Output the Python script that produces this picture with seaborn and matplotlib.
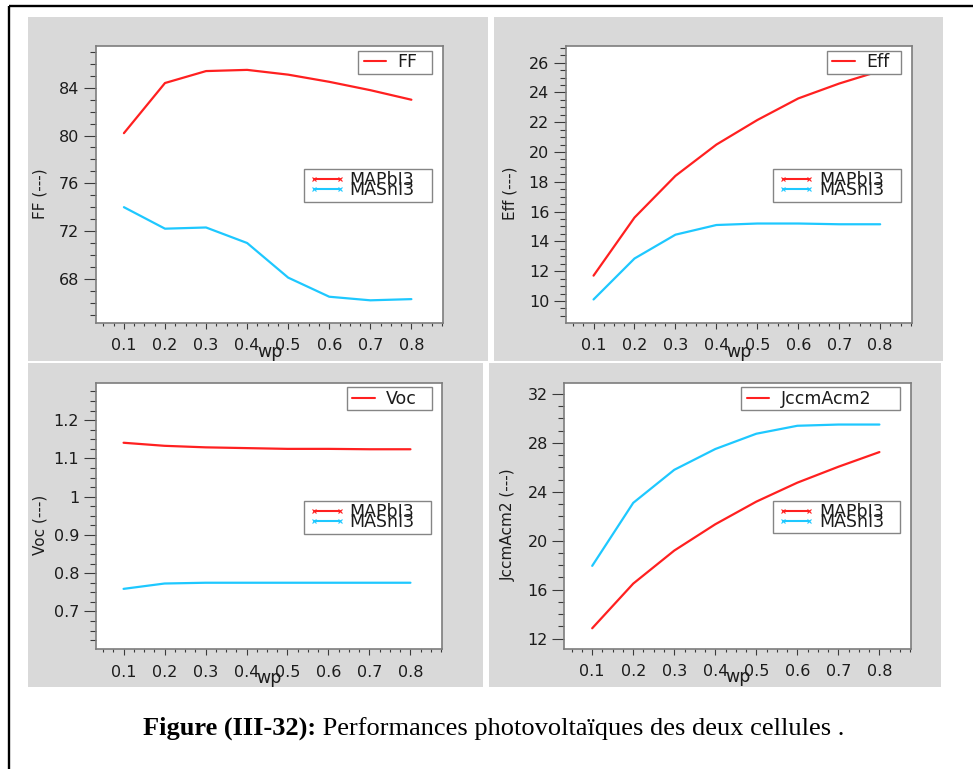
import matplotlib
matplotlib.use("Agg")
import numpy as np
import pandas as pd
import matplotlib.pyplot as plt
import seaborn as sns
from matplotlib.lines import Line2D
from matplotlib.patches import Rectangle
from matplotlib.legend_handler import HandlerLine2D
from matplotlib.ticker import MultipleLocator, FixedLocator, FuncFormatter

# ---- data -------------------------------------------------------------
wp = [0.1, 0.2, 0.3, 0.4, 0.5, 0.6, 0.7, 0.8]
cells = ["MAPbI3", "MASnI3"]

ff_mapbi3 = [80.2, 84.4, 85.4, 85.5, 85.1, 84.5, 83.8, 83.0]
ff_masni3 = [74.0, 72.2, 72.3, 71.0, 68.1, 66.5, 66.2, 66.3]

eff_mapbi3 = [11.7, 15.6, 18.4, 20.5, 22.15, 23.6, 24.6, 25.45]
eff_masni3 = [10.1, 12.85, 14.45, 15.1, 15.2, 15.2, 15.15, 15.15]

voc_mapbi3 = [1.141, 1.133, 1.129, 1.127, 1.125, 1.125, 1.124, 1.124]
voc_masni3 = [0.759, 0.773, 0.775, 0.775, 0.775, 0.775, 0.775, 0.775]

jsc_mapbi3 = [12.85, 16.5, 19.2, 21.35, 23.2, 24.75, 26.05, 27.25]
jsc_masni3 = [17.95, 23.1, 25.8, 27.5, 28.75, 29.4, 29.5, 29.5]

x_ticks = [0.1, 0.2, 0.3, 0.4, 0.5, 0.6, 0.7, 0.8]

# ---- style ------------------------------------------------------------
sns.set_theme(style="white")
plt.rcParams["font.family"] = ["DejaVu Sans"]

RED = "#ff2020"
CYAN = "#1ec8ff"
PALETTE = {"MAPbI3": RED, "MASnI3": CYAN}
GRAY_BG = "#d9d9d9"
SPINE = "#7d7d7d"
TXT = "#1c1c1c"

W, H = 973, 769
fig = plt.figure(figsize=(W / 100, H / 100), dpi=100, facecolor="white")


def fig_box(x0, y0, x1, y1):
    """Pixel box (origin top-left) -> figure fraction [left, bottom, width, height]."""
    return [x0 / W, 1 - y1 / H, (x1 - x0) / W, (y1 - y0) / H]


panels = [
    dict(name="FF", ylabel="FF (---)", legend="FF", series=(ff_mapbi3, ff_masni3),
         bg=(28, 17, 488.3, 360.7), box=(96, 46, 443, 323),
         ylim=(64.3, 87.5), major=4, minor=1, first_leg=(0.755, 0.968), second_x0=0.599),
    dict(name="Eff", ylabel="Eff (---)", legend="Eff", series=(eff_mapbi3, eff_masni3),
         bg=(494, 17, 942.7, 360.7), box=(565.7, 46, 911.7, 323),
         ylim=(8.52, 27.12), major=2, minor=0.5, first_leg=(0.754, 0.969), second_x0=0.599),
    dict(name="Voc", ylabel="Voc (---)", legend="Voc", series=(voc_mapbi3, voc_masni3),
         bg=(28, 363.3, 483.3, 686.7), box=(95.7, 382.7, 442, 649.3),
         ylim=(0.601, 1.298), major=0.1, minor=0.025, first_leg=(0.725, 0.970), second_x0=0.601),
    dict(name="Jsc", ylabel="JccmAcm2 (---)", legend="JccmAcm2", series=(jsc_mapbi3, jsc_masni3),
         bg=(489.3, 363.3, 940.7, 686.7), box=(564.3, 382.7, 911, 648.7),
         ylim=(11.18, 32.92), major=4, minor=1, first_leg=(0.510, 0.969), second_x0=0.602),
]

fmt = FuncFormatter(lambda v, _: f"{v:g}")
LEG_FS = 12.5

for p in panels:
    # gray panel background
    x0, y0, x1, y1 = p["bg"]
    l, b, w, h = fig_box(x0, y0, x1, y1)
    fig.add_artist(Rectangle((l, b), w, h, transform=fig.transFigure,
                             facecolor=GRAY_BG, edgecolor="none", zorder=-5))

    ax = fig.add_axes(fig_box(*p["box"]))
    ax.set_facecolor("white")

    df = pd.DataFrame({
        "wp": wp * 2,
        "cell": [cells[0]] * len(wp) + [cells[1]] * len(wp),
        "value": list(p["series"][0]) + list(p["series"][1]),
    })
    sns.lineplot(data=df, x="wp", y="value", hue="cell", palette=PALETTE,
                 linewidth=1.6, ax=ax, legend=False)

    ax.set_xlim(0.032, 0.877)
    ax.set_ylim(*p["ylim"])
    ax.xaxis.set_major_locator(FixedLocator(x_ticks))
    ax.xaxis.set_minor_locator(MultipleLocator(0.025))
    ax.yaxis.set_major_locator(MultipleLocator(p["major"]))
    ax.yaxis.set_minor_locator(MultipleLocator(p["minor"]))
    ax.xaxis.set_major_formatter(fmt)
    ax.yaxis.set_major_formatter(fmt)

    ax.tick_params(axis="x", which="major", direction="out", length=4, width=0.8,
                   color="#3a3a3a", pad=7, labelsize=11.5, labelcolor=TXT,
                   bottom=True, top=False)
    ax.tick_params(axis="x", which="minor", direction="out", length=2.4, width=0.8,
                   color="#3a3a3a", bottom=True, top=False)
    ax.tick_params(axis="y", which="major", direction="out", length=8.5, width=0.8,
                   color="#3a3a3a", pad=3.4, labelsize=11.5, labelcolor=TXT,
                   left=True, right=False)
    ax.tick_params(axis="y", which="minor", direction="out", length=4.6, width=0.8,
                   color="#3a3a3a", left=True, right=False)

    for s in ax.spines.values():
        s.set_visible(True)
        s.set_color(SPINE)
        s.set_linewidth(1.2)

    ax.set_xlabel("wp", fontsize=12.5, color=TXT)
    ax.xaxis.set_label_coords(0.5, -0.074)
    ax.set_ylabel(p["ylabel"], fontsize=11, color=TXT)
    ax.yaxis.set_label_coords(-0.14, 0.468)

    # quantity legend (single red entry)
    fx0, fx1 = p["first_leg"]
    leg1 = ax.legend([Line2D([], [], color=RED, lw=1.5)], [p["legend"]],
                     loc="upper left", bbox_to_anchor=(fx0, 0.882, fx1 - fx0, 0.1),
                     mode="expand", borderaxespad=0, borderpad=0.14,
                     handlelength=1.47, handletextpad=0.66, fontsize=LEG_FS,
                     frameon=True, fancybox=False, framealpha=1,
                     edgecolor="#858585", labelcolor=TXT,
                     handler_map={Line2D: HandlerLine2D(xpad=0.18, marker_pad=0)})
    leg1.get_frame().set_linewidth(1.0)
    ax.add_artist(leg1)

    # cell legend
    cell_handles = [Line2D([], [], color=PALETTE[c], lw=1.5, marker="x",
                           markersize=3.2, markeredgewidth=0.8) for c in cells]
    leg2 = ax.legend(cell_handles, cells,
                     loc="upper left",
                     bbox_to_anchor=(p["second_x0"], 0.457, 0.968 - p["second_x0"], 0.1),
                     mode="expand", borderaxespad=0, borderpad=0.14,
                     handlelength=1.93, handletextpad=0.57, labelspacing=-0.46,
                     numpoints=2, fontsize=LEG_FS, frameon=True, fancybox=False,
                     framealpha=1, edgecolor="#858585", labelcolor=TXT,
                     handler_map={Line2D: HandlerLine2D(xpad=0.44, marker_pad=0)})
    leg2.get_frame().set_linewidth(1.0)

# page frame
fig.add_artist(Line2D([8.5 / W, 1.0], [1 - 6.2 / H, 1 - 6.2 / H], transform=fig.transFigure,
                      color="black", lw=1.7, solid_capstyle="butt"))
fig.add_artist(Line2D([8.5 / W, 8.5 / W], [1 - 6.2 / H, 0.0], transform=fig.transFigure,
                      color="black", lw=1.7, solid_capstyle="butt"))

# caption
cap_bold = fig.text(143 / W, 1 - 735 / H, "Figure (III-32):", fontfamily="Liberation Serif",
                    fontweight="bold", fontsize=19, va="baseline", ha="left", color="black")
fig.canvas.draw()
bb = cap_bold.get_window_extent()
fig.text(bb.x1 / W, 1 - 735 / H, " Performances photovoltaïques des deux cellules .",
         fontfamily="Liberation Serif", fontsize=19, va="baseline", ha="left", color="black")

fig.savefig("out.png", dpi=100, facecolor="white")
